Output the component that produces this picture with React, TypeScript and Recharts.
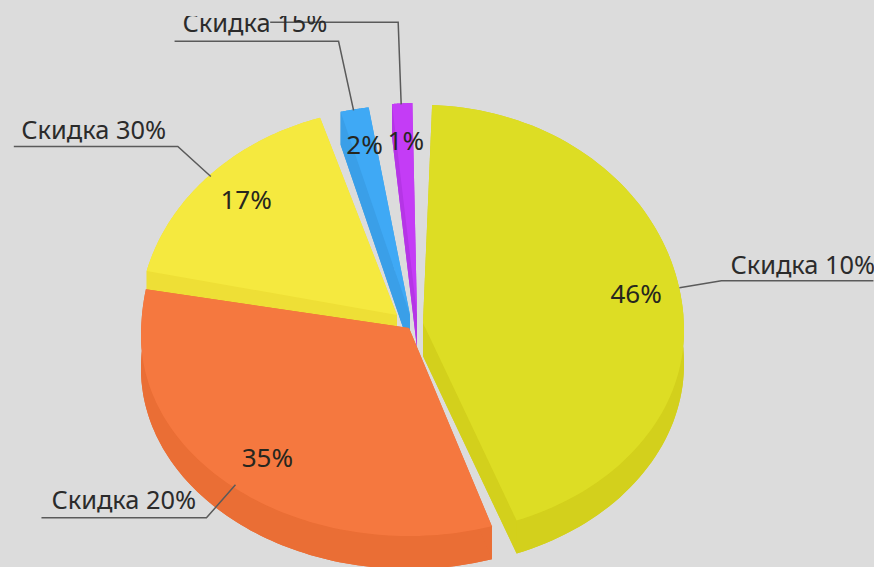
import React from "react";
import { PieChart, Pie } from "recharts";

// Drawn back-to-front (the pie runs counter-clockwise from 12 o'clock).
const categories = ["", "Скидка 15%", "Скидка 30%", "Скидка 20%", "Скидка 10%"];
const shares = [1.3, 1.7, 17, 34.5, 45.5];
const percentLabels = ["1%", "2%", "17%", "35%", "46%"];

const topColors = ["#c43cf6", "#3fa9f5", "#f5e93f", "#f5783f", "#dddd24"];
const wallColors = ["#b535e6", "#3a9fe8", "#eedf36", "#ea6e35", "#d3d01c"];

// Each slice's explosion and perspective, relative to the pie's cx/cy.
const offsets = [
  { dx: 5, dy: -7, rx: 262, top: 220, bot: 200 },
  { dx: -2, dy: -7, rx: 280, top: 218, bot: 200 },
  { dx: -15, dy: -7, rx: 258, top: 215, bot: 200 },
  { dx: -3, dy: 6, rx: 268, top: 245, bot: 200 },
  { dx: 11, dy: 1, rx: 261, top: 226, bot: 203 },
];
const leaders = [
  { p: [[-1, 1], [-4, -81], [-132, -81]], tx: 0, ty: 0 },
  { p: [[-1, 1], [-16, -68], [-180, -68]], tx: -172, ty: -77 },
  { p: [[1.5, 1], [-31.5, -29], [-195.5, -29]], tx: -188, ty: -36 },
  { p: [[4, -1], [-25, 32], [-190, 32]], tx: -180, ty: 23 },
  { p: [[-1, -6], [41, -13], [193, -13]], tx: 50, ty: -20 },
];
const percentNudge = [
  [1, -1],
  [0, -2],
  [3, -2],
  [4, 0],
  [2, -6],
];

const CX = 412;
const CY = 322;
const RADIUS = 262;
const DEPTH = 33;
const RIM_SHIFT = 8;
const FONT = "'Noto Sans', Roboto, sans-serif";

const data = categories.map((name, i) => ({ name, value: shares[i], idx: i }));

const RAD = Math.PI / 180;
const rim = (i: number, angle: number, k: number, cx: number, cy: number, radius: number) => {
  const g = offsets[i];
  const s = Math.sin((90 - angle) * RAD);
  const c = Math.cos((90 - angle) * RAD);
  const scale = radius / RADIUS;
  const ry = (c > 0 ? g.top : g.bot) * scale;
  return {
    x: cx + g.dx + (g.rx * scale) * s * k,
    y: cy + g.dy + (RIM_SHIFT - ry * c) * k,
  };
};

const toPath = (pts: { x: number; y: number }[]) =>
  pts.map((p, j) => `${j ? "L" : "M"}${p.x.toFixed(1)} ${p.y.toFixed(1)}`).join(" ") + " Z";

const SliceShape = (props: any) => {
  const { cx, cy, outerRadius, startAngle, endAngle } = props;
  const i: number = props.idx ?? props.payload?.idx ?? 0;
  const steps = 90;
  const arc: { x: number; y: number }[] = [];
  for (let s = 0; s <= steps; s++) {
    arc.push(rim(i, startAngle + ((endAngle - startAngle) * s) / steps, 1, cx, cy, outerRadius));
  }
  const apex = rim(i, 0, 0, cx, cy, outerRadius);
  const down = (p: { x: number; y: number }) => ({ x: p.x, y: p.y + DEPTH });
  const face = [apex, ...arc];
  const lower = face.map(down);
  const band = [...arc, ...arc.map(down).reverse()];
  const a = arc[0];
  const b = arc[arc.length - 1];
  return (
    <g>
      <path d={toPath(lower)} fill={wallColors[i]} />
      <path d={toPath(band)} fill={wallColors[i]} />
      <path d={toPath([apex, a, down(a), down(apex)])} fill={wallColors[i]} />
      <path d={toPath([apex, b, down(b), down(apex)])} fill={wallColors[i]} />
      <path d={toPath(face)} fill={topColors[i]} />
    </g>
  );
};

const SliceLabel = (props: any) => {
  const { cx, cy, midAngle, outerRadius } = props;
  const i: number = props.idx ?? props.payload?.idx ?? props.index ?? 0;
  const anchor = rim(i, midAngle, 1, cx, cy, outerRadius);
  const inner = rim(i, midAngle, 0.82, cx, cy, outerRadius);
  const l = leaders[i];
  const pts = l.p.map(([dx, dy]) => `${anchor.x + dx},${anchor.y + dy}`).join(" ");
  return (
    <g>
      <polyline points={pts} fill="none" stroke="#5a5a5a" strokeWidth={1.5} />
      <text
        x={inner.x + percentNudge[i][0]}
        y={inner.y + percentNudge[i][1]}
        textAnchor="middle"
        dominantBaseline="central"
        fontFamily={FONT}
        fontSize={26}
        fill="#26261e"
      >
        {percentLabels[i]}
      </text>
      {categories[i] ? (
        <text
          x={anchor.x + l.tx}
          y={anchor.y + l.ty}
          fontFamily={FONT}
          fontSize={25.4}
          fill="#2b2b2b"
          clipPath="url(#topCrop)"
        >
          {categories[i]}
        </text>
      ) : null}
    </g>
  );
};

export default function App() {
  return (
    <div style={{ position: "fixed", left: 0, top: 0, width: 874, height: 567, background: "#dcdcdc", overflow: "hidden" }}>
      <PieChart width={874} height={567} margin={{ top: 0, right: 0, bottom: 0, left: 0 }}>
        <defs>
          <clipPath id="topCrop" clipPathUnits="userSpaceOnUse">
            <rect x={0} y={16} width={874} height={551} />
          </clipPath>
        </defs>
        <Pie
          data={data}
          dataKey="value"
          nameKey="name"
          cx={CX}
          cy={CY}
          innerRadius={0}
          outerRadius={RADIUS}
          startAngle={91}
          endAngle={451}
          paddingAngle={3}
          stroke="none"
          shape={SliceShape}
          label={SliceLabel}
          labelLine={false}
          isAnimationActive={false}
        />
      </PieChart>
    </div>
  );
}
